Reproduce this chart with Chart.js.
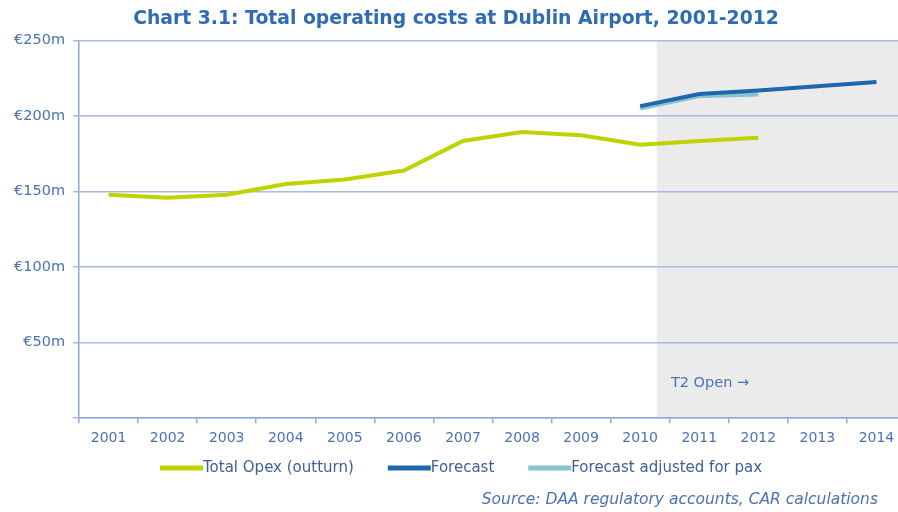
<!DOCTYPE html>
<html>
<head>
<meta charset="utf-8">
<script src="https://cdn.jsdelivr.net/npm/chart.js@4.4.1/dist/chart.umd.min.js"></script>
<style>
  html, body { margin: 0; padding: 0; background: #fff; overflow: hidden; }
  #wrap { width: 898px; height: 512px; overflow: hidden; }
  #box { width: 906px; height: 512px; }
</style>
</head>
<body>
<div id="wrap"><div id="box"><canvas id="myChart"></canvas></div></div>
<script>
// years on the x axis
const years = ["2001", "2002", "2003", "2004", "2005", "2006", "2007",
               "2008", "2009", "2010", "2011", "2012", "2013", "2014"];

// € millions
const opexOutturn = [148, 146, 148, 155, 158, 164, 183.5, 189.5, 187.3, 181, 183.5, 185.7, null, null];
const forecast    = [null, null, null, null, null, null, null, null, null, 206.6, 214.6, 217, 219.8, 222.5];
const forecastPax = [null, null, null, null, null, null, null, null, null, 205, 213.2, 214.3, null, null];

const yTicks = [0, 50, 100, 150, 200, 250];

const blueText = "#4a72b3";
const sourceNote = "Source: DAA regulatory accounts, CAR calculations";

// grey band for the years after T2 opened, its label, legend and source line
const t2Band = {
  id: "t2Band",
  beforeDraw(chart) {
    const { ctx, chartArea, scales } = chart;
    const x0 = scales.x.getPixelForValue(9.28);
    ctx.save();
    ctx.fillStyle = "#ebebeb";
    ctx.fillRect(x0, chartArea.top, chartArea.right - x0, chartArea.bottom - chartArea.top);
    ctx.restore();
  },
  afterDatasetsDraw(chart) {
    const { ctx, scales } = chart;
    ctx.save();
    ctx.fillStyle = blueText;
    ctx.font = "14.5px 'DejaVu Sans'";
    ctx.textBaseline = "middle";
    ctx.fillText("T2 Open \u2192", scales.x.getPixelForValue(9.52), scales.y.getPixelForValue(23.4));
    ctx.restore();
  },
  afterDraw(chart) {
    const { ctx } = chart;
    ctx.save();
    // legend: line sample right up against its label
    ctx.font = "15px 'DejaVu Sans'";
    ctx.textBaseline = "middle";
    let x = 160;
    const y = 468;
    chart.data.datasets.forEach(ds => {
      ctx.strokeStyle = ds.borderColor;
      ctx.lineWidth = 5;
      ctx.beginPath();
      ctx.moveTo(x, y);
      ctx.lineTo(x + 43, y);
      ctx.stroke();
      ctx.fillStyle = "#3d5f95";
      ctx.fillText(ds.label, x + 43, y);
      x += 43 + ctx.measureText(ds.label).width + 34;
    });
    // source note
    ctx.fillStyle = blueText;
    ctx.font = "italic 15.5px 'DejaVu Sans'";
    ctx.textAlign = "right";
    ctx.fillText(sourceNote, 878, 500);
    ctx.restore();
  }
};

let ctx = document.getElementById("myChart").getContext("2d");
new Chart(ctx, {
  type: "line",
  data: {
    labels: years,
    datasets: [
      {
        label: "Total Opex (outturn)",
        data: opexOutturn,
        borderColor: "#bed300",
        backgroundColor: "#bed300",
        borderWidth: 4,
        pointRadius: 0,
        fill: false
      },
      {
        label: "Forecast",
        data: forecast,
        borderColor: "#1c68ab",
        backgroundColor: "#1c68ab",
        borderWidth: 4,
        pointRadius: 0,
        fill: false
      },
      {
        label: "Forecast adjusted for pax",
        data: forecastPax,
        borderColor: "#8ac3cf",
        backgroundColor: "#8ac3cf",
        borderWidth: 4,
        pointRadius: 0,
        fill: false
      }
    ]
  },
  options: {
    responsive: true,
    maintainAspectRatio: false,
    animation: false,
    layout: { padding: { left: 6, right: 0, bottom: 58 } },
    plugins: {
      title: {
        display: true,
        text: "Chart 3.1: Total operating costs at Dublin Airport, 2001-2012",
        color: "#2f6cb3",
        font: { family: "'DejaVu Sans'", size: 18.8, weight: "bold" },
        padding: { top: 8, bottom: 10 }
      },
      legend: { display: false },
      tooltip: { enabled: false }
    },
    scales: {
      x: {
        offset: true,
        grid: {
          offset: true,
          drawOnChartArea: false,
          drawTicks: true,
          tickLength: 5,
          color: "#8eaad6",
          lineWidth: 1.5
        },
        border: { color: "#8eaad6", width: 1.5 },
        ticks: {
          color: blueText,
          padding: 7,
          maxRotation: 0,
          font: { family: "'DejaVu Sans'", size: 14 }
        }
      },
      y: {
        min: 0,
        max: 250,
        afterBuildTicks: axis => { axis.ticks = yTicks.map(v => ({ value: v })); },
        grid: {
          color: "#a6bde0",
          lineWidth: 1.5,
          drawTicks: true,
          tickLength: 6
        },
        border: { color: "#8eaad6", width: 1.5 },
        ticks: {
          color: blueText,
          padding: 8,
          font: { family: "'DejaVu Sans'", size: 14.5 },
          callback: v => v === 0 ? "" : "\u20ac" + v + "m"
        }
      }
    }
  },
  plugins: [t2Band]
});
</script>
</body>
</html>
